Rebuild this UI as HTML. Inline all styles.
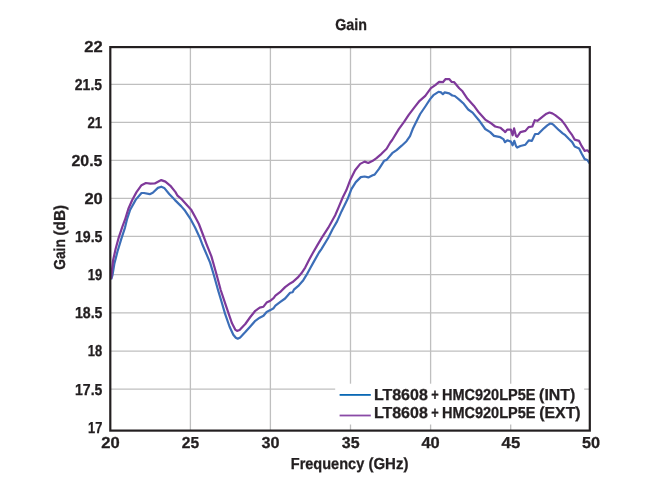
<!DOCTYPE html>
<html><head><meta charset="utf-8"><title>Gain</title>
<style>
html,body{margin:0;padding:0;background:#fff;}
svg{display:block;}
text{font-family:"Liberation Sans",sans-serif;font-weight:bold;fill:#231f20;stroke:#231f20;stroke-width:0.3px;text-rendering:geometricPrecision;}
</style></head><body>
<svg width="668" height="481" viewBox="0 0 668 481">
<rect x="0" y="0" width="668" height="481" fill="#ffffff"/>

<g stroke="#bfbfbf" stroke-width="1.3" fill="none">
<line x1="110" y1="84.4" x2="590" y2="84.4"/>
<line x1="110" y1="122.4" x2="590" y2="122.4"/>
<line x1="110" y1="160.4" x2="590" y2="160.4"/>
<line x1="110" y1="198.4" x2="590" y2="198.4"/>
<line x1="110" y1="236.4" x2="590" y2="236.4"/>
<line x1="110" y1="274.6" x2="590" y2="274.6"/>
<line x1="110" y1="312.8" x2="590" y2="312.8"/>
<line x1="110" y1="351.2" x2="590" y2="351.2"/>
<line x1="110" y1="389.2" x2="590" y2="389.2"/>
<line x1="190.4" y1="47" x2="190.4" y2="430.5"/>
<line x1="270.4" y1="47" x2="270.4" y2="430.5"/>
<line x1="350.5" y1="47" x2="350.5" y2="430.5"/>
<line x1="430.6" y1="47" x2="430.6" y2="430.5"/>
<line x1="510.7" y1="47" x2="510.7" y2="430.5"/>
</g>
<path d="M111.1,279.5 L112.5,275.2 L114.3,264.0 L117.5,251.5 L121.3,238.9 L125.0,227.6 L126.9,219.7 L130.2,209.7 L135.8,199.6 L141.5,193.0 L144.0,193.0 L149.7,194.2 L152.8,192.7 L157.9,187.9 L161.3,186.7 L164.2,187.9 L169.2,194.0 L175.0,200.1 L181.3,206.4 L185.1,210.8 L190.1,218.3 L195.2,227.7 L199.6,237.2 L202.7,245.3 L204.6,249.7 L210.1,262.6 L213.9,275.2 L218.0,290.0 L221.4,301.3 L225.1,313.9 L229.5,326.5 L233.3,334.7 L235.8,337.8 L237.7,338.7 L240.2,337.5 L245.3,332.1 L250.3,326.5 L255.3,320.8 L259.7,317.7 L263.5,315.8 L266.6,312.0 L270.4,310.1 L273.6,308.2 L275.4,305.7 L280.0,302.2 L285.1,298.5 L290.1,292.8 L292.6,292.2 L293.9,289.7 L298.9,285.3 L303.3,280.2 L306.4,275.2 L310.2,268.3 L314.0,261.4 L319.0,252.5 L321.4,249.1 L328.3,237.8 L332.7,229.0 L337.1,221.4 L341.5,211.4 L346.5,201.3 L347.6,199.1 L351.4,189.1 L355.8,182.1 L360.8,177.1 L364.6,176.5 L368.3,177.4 L372.7,175.2 L374.6,174.6 L379.0,168.9 L384.1,160.8 L386.6,159.9 L392.2,153.2 L396.6,150.1 L401.7,145.7 L406.5,141.2 L410.0,136.2 L412.7,129.1 L416.4,121.6 L420.2,114.0 L425.3,106.5 L430.3,98.9 L433.4,95.2 L438.5,91.8 L441.0,92.4 L442.9,94.2 L444.7,92.4 L449.2,93.3 L452.3,95.5 L454.8,96.0 L459.2,99.6 L463.8,103.8 L468.2,109.5 L472.6,112.6 L478.9,120.2 L485.2,129.0 L490.2,132.1 L494.0,135.9 L500.3,137.2 L503.4,139.1 L505.0,142.2 L507.2,140.3 L510.9,141.6 L512.6,145.3 L514.3,140.9 L516.0,146.0 L517.2,147.6 L520.4,146.0 L525.4,144.7 L528.8,140.3 L531.9,140.9 L535.1,134.0 L538.2,134.0 L543.9,128.3 L547.3,125.4 L550.2,123.5 L552.1,123.9 L553.9,125.2 L559.0,130.2 L562.7,133.3 L565.3,135.2 L569.0,139.0 L572.2,142.1 L574.7,146.5 L579.1,148.4 L581.6,153.5 L584.7,159.1 L587.3,160.0 L589.6,163.5" fill="none" stroke="#3b6eb8" stroke-width="2.2" stroke-linejoin="round"/>
<path d="M111.1,279.0 L112.1,268.9 L113.1,260.3 L115.6,249.0 L118.7,237.6 L122.5,226.3 L125.0,219.7 L128.3,209.0 L132.1,200.2 L136.5,192.1 L141.5,185.2 L145.9,183.0 L150.3,183.6 L154.7,183.5 L161.3,180.1 L165.4,181.6 L170.4,185.8 L175.5,192.1 L177.5,195.7 L181.9,199.4 L186.4,204.5 L191.4,210.1 L195.2,217.0 L198.9,224.0 L202.7,234.0 L206.5,244.1 L211.4,256.4 L216.4,274.0 L220.7,290.0 L224.5,301.3 L228.3,312.6 L232.0,323.3 L235.2,329.6 L237.1,330.9 L239.6,330.0 L245.3,324.0 L250.3,317.0 L255.3,310.8 L259.7,307.6 L263.5,306.7 L266.6,302.6 L270.4,300.7 L273.6,298.2 L275.4,295.7 L280.0,292.2 L285.1,287.1 L290.1,283.4 L292.6,282.1 L297.6,277.7 L301.4,273.3 L305.2,267.6 L309.0,260.1 L312.7,253.2 L317.1,245.6 L321.4,238.4 L328.3,227.7 L335.2,215.2 L339.0,206.4 L342.7,197.5 L346.3,190.3 L350.1,180.3 L355.1,170.2 L360.2,163.9 L364.6,161.6 L368.3,163.0 L372.7,160.8 L376.5,158.2 L381.5,153.8 L386.6,148.8 L390.3,142.5 L392.2,140.0 L398.8,129.1 L403.9,122.2 L408.9,114.7 L414.6,107.1 L419.6,100.8 L425.3,95.8 L430.9,88.2 L435.3,85.1 L439.1,81.9 L442.9,82.2 L445.4,79.2 L449.2,79.1 L451.7,81.9 L454.2,82.2 L459.2,88.2 L462.5,91.3 L467.5,98.8 L473.8,105.7 L478.9,112.6 L485.2,119.6 L490.2,122.7 L495.2,126.5 L500.3,127.7 L503.4,130.3 L505.3,132.1 L507.2,129.6 L510.9,129.6 L512.6,135.3 L514.1,128.4 L516.0,135.9 L517.2,136.9 L520.4,132.1 L525.4,130.9 L528.6,127.1 L532.3,126.5 L534.8,120.2 L537.4,120.8 L543.9,115.7 L546.5,113.7 L549.5,112.5 L552.3,113.4 L555.2,115.1 L561.5,120.1 L565.3,125.2 L569.0,130.8 L572.2,135.2 L574.7,139.6 L579.1,140.9 L581.6,145.9 L584.7,150.9 L587.3,150.3 L589.6,152.5" fill="none" stroke="#7f399a" stroke-width="2.2" stroke-linejoin="round"/>
<rect x="335.2" y="383.7" width="249" height="40.8" fill="#ffffff"/>
<line x1="339.6" y1="394.9" x2="370.8" y2="394.9" stroke="#0a68b4" stroke-width="1.8"/>
<line x1="339.6" y1="415.5" x2="370.8" y2="415.5" stroke="#8a4aa6" stroke-width="1.8"/>
<rect x="110.3" y="47.1" width="479.5" height="383.5" fill="none" stroke="#231f20" stroke-width="2.2"/>
<text x="335.28" y="30.25" font-size="15.9" textLength="31.62" lengthAdjust="spacingAndGlyphs">Gain</text>
<text x="84.31" y="51.75" font-size="15.9" textLength="18.40" lengthAdjust="spacingAndGlyphs">22</text>
<text x="74.82" y="89.84" font-size="15.9" textLength="27.32" lengthAdjust="spacingAndGlyphs">21.5</text>
<text x="87.40" y="127.93" font-size="15.9" textLength="14.84" lengthAdjust="spacingAndGlyphs">21</text>
<text x="71.51" y="166.02" font-size="15.9" textLength="30.97" lengthAdjust="spacingAndGlyphs">20.5</text>
<text x="84.41" y="204.11" font-size="15.9" textLength="18.32" lengthAdjust="spacingAndGlyphs">20</text>
<text x="74.92" y="242.20" font-size="15.9" textLength="27.59" lengthAdjust="spacingAndGlyphs">19.5</text>
<text x="87.78" y="280.29" font-size="15.9" textLength="14.54" lengthAdjust="spacingAndGlyphs">19</text>
<text x="74.92" y="318.38" font-size="15.9" textLength="27.59" lengthAdjust="spacingAndGlyphs">18.5</text>
<text x="87.83" y="356.47" font-size="15.9" textLength="14.43" lengthAdjust="spacingAndGlyphs">18</text>
<text x="75.03" y="394.56" font-size="15.9" textLength="27.38" lengthAdjust="spacingAndGlyphs">17.5</text>
<text x="88.11" y="432.65" font-size="15.9" textLength="14.30" lengthAdjust="spacingAndGlyphs">17</text>
<text x="101.30" y="448.10" font-size="15.9" textLength="18.43" lengthAdjust="spacingAndGlyphs">20</text>
<text x="181.78" y="448.10" font-size="15.9" textLength="17.37" lengthAdjust="spacingAndGlyphs">25</text>
<text x="261.52" y="448.10" font-size="15.9" textLength="18.02" lengthAdjust="spacingAndGlyphs">30</text>
<text x="341.83" y="448.10" font-size="15.9" textLength="17.79" lengthAdjust="spacingAndGlyphs">35</text>
<text x="421.44" y="448.10" font-size="15.9" textLength="18.30" lengthAdjust="spacingAndGlyphs">40</text>
<text x="501.61" y="448.10" font-size="15.9" textLength="18.66" lengthAdjust="spacingAndGlyphs">45</text>
<text x="581.90" y="448.10" font-size="15.9" textLength="18.08" lengthAdjust="spacingAndGlyphs">50</text>
<text y="469.30" font-size="15.9"><tspan x="290.77" textLength="73.47" lengthAdjust="spacingAndGlyphs">Frequency</tspan> <tspan x="368.43" textLength="40.00" lengthAdjust="spacingAndGlyphs">(GHz)</tspan></text>
<text y="400.20" font-size="15.9"><tspan x="373.92" textLength="53.87" lengthAdjust="spacingAndGlyphs">LT8608</tspan> <tspan x="431.21" textLength="7.46" lengthAdjust="spacingAndGlyphs">+</tspan> <tspan x="441.90" textLength="93.64" lengthAdjust="spacingAndGlyphs">HMC920LP5E</tspan> <tspan x="539.12" textLength="36.13" lengthAdjust="spacingAndGlyphs">(INT)</tspan></text>
<text y="417.90" font-size="15.9"><tspan x="373.92" textLength="53.87" lengthAdjust="spacingAndGlyphs">LT8608</tspan> <tspan x="431.21" textLength="7.46" lengthAdjust="spacingAndGlyphs">+</tspan> <tspan x="441.90" textLength="93.64" lengthAdjust="spacingAndGlyphs">HMC920LP5E</tspan> <tspan x="539.21" textLength="41.40" lengthAdjust="spacingAndGlyphs">(EXT)</tspan></text>
<text transform="rotate(-90)" y="64.50" font-size="15.9"><tspan x="-269.83" textLength="30.65" lengthAdjust="spacingAndGlyphs">Gain</tspan> <tspan x="-235.62" textLength="30.70" lengthAdjust="spacingAndGlyphs">(dB)</tspan></text>
</svg></body></html>
